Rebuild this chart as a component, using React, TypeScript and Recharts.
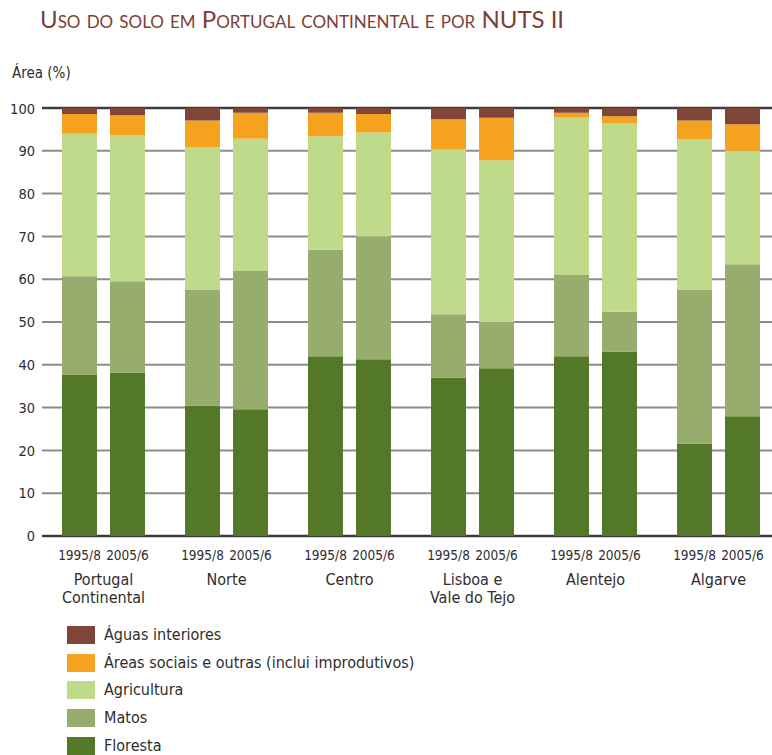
import React from 'react';
import { BarChart, Bar, XAxis, YAxis, CartesianGrid } from 'recharts';

const regionNames = ['Portugal Continental', 'Norte', 'Centro', 'Lisboa e Vale do Tejo', 'Alentejo', 'Algarve'];
const regionLines: Record<string, string[]> = {
    'Portugal Continental': ['Portugal', 'Continental'],
    'Norte': ['Norte'],
    'Centro': ['Centro'],
    'Lisboa e Vale do Tejo': ['Lisboa e', 'Vale do Tejo'],
    'Alentejo': ['Alentejo'],
    'Algarve': ['Algarve'],
};
const periods = ['1995/8', '2005/6'];
const yTicks = [0, 10, 20, 30, 40, 50, 60, 70, 80, 90, 100];

// values per region, 1995/8
const floresta95 = [37.6, 30.5, 42.0, 37.0, 42.0, 21.6];
const matos95 = [23.1, 27.1, 24.9, 14.8, 19.0, 36.0];
const agricultura95 = [33.3, 33.3, 26.5, 38.5, 36.8, 35.1];
const sociais95 = [4.6, 6.2, 5.5, 7.1, 1.1, 4.4];
const aguas95 = [1.4, 2.9, 1.1, 2.6, 1.1, 2.9];

// values per region, 2005/6
const floresta05 = [38.2, 29.6, 41.3, 39.2, 43.1, 28.0];
const matos05 = [21.3, 32.3, 28.7, 10.8, 9.3, 35.5];
const agricultura05 = [34.2, 30.9, 24.3, 37.8, 44.1, 26.5];
const sociais05 = [4.6, 6.1, 4.3, 9.9, 1.6, 6.2];
const aguas05 = [1.7, 1.1, 1.4, 2.3, 1.9, 3.8];

const series = [
    { key: 'floresta', name: 'Floresta', color: '#527828' },
    { key: 'matos', name: 'Matos', color: '#97ad6e' },
    { key: 'agricultura', name: 'Agricultura', color: '#bfda8a' },
    { key: 'sociais', name: 'Áreas sociais e outras (inclui improdutivos)', color: '#f5a31e' },
    { key: 'aguas', name: 'Águas interiores', color: '#7f4539' },
];

const data = regionNames.map((name, i) => ({
    name,
    floresta95: floresta95[i], matos95: matos95[i], agricultura95: agricultura95[i],
    sociais95: sociais95[i], aguas95: aguas95[i],
    floresta05: floresta05[i], matos05: matos05[i], agricultura05: agricultura05[i],
    sociais05: sociais05[i], aguas05: aguas05[i],
}));

const FONT = '"DejaVu Sans Condensed", "DejaVu Sans", sans-serif';

const GroupTick = (props: any) => {
    const { x, y, payload } = props;
    const lines = regionLines[payload.value] || [payload.value];
    return (
        <g transform={`translate(${x},${y})`}>
            <text x={-24} y={0} dy={16} textAnchor="middle" fontSize={13.5} fill="#2e2e2e" fontFamily={FONT}>{periods[0]}</text>
            <text x={24} y={0} dy={16} textAnchor="middle" fontSize={13.5} fill="#2e2e2e" fontFamily={FONT}>{periods[1]}</text>
            {lines.map((l, i) => (
                <text key={l} x={0} y={0} dy={41 + i * 18} textAnchor="middle" fontSize={16} fill="#2e2e2e" fontFamily={FONT}>{l}</text>
            ))}
        </g>
    );
};

const App = () => {
    return (
        <div style={{ position: 'absolute', left: 0, top: 0, width: 772, height: 755, overflow: 'hidden', background: '#fff', fontFamily: FONT }}>
            <div style={{ position: 'absolute', left: 40, top: 4, fontFamily: 'Lato, sans-serif', fontVariant: 'small-caps', fontSize: 24, color: '#7d4037', whiteSpace: 'nowrap' }}>
                Uso do solo em Portugal continental e por NUTS II
            </div>
            <div style={{ position: 'absolute', left: 12, top: 64, fontSize: 15, color: '#2e2e2e' }}>Área (%)</div>

            <div style={{ position: 'absolute', left: 0, top: 100 }}>
                <BarChart width={780} height={526} data={data} margin={{ top: 8, right: 0, left: 0, bottom: 0 }} barSize={35} barGap={13}>
                    <CartesianGrid vertical={false} horizontalValues={[10, 20, 30, 40, 50, 60, 70, 80, 90]} stroke="#8c8c8c" strokeWidth={2} />
                    <CartesianGrid vertical={false} horizontalValues={[0, 100]} stroke="#3c3c3c" strokeWidth={2.5} />
                    <XAxis dataKey="name" interval={0} axisLine={false} tickLine={false} height={90} tick={<GroupTick />} />
                    <YAxis domain={[0, 100]} ticks={yTicks} width={42} axisLine={false} tickLine={false} tickSize={0} tickMargin={7}
                        tick={{ fontSize: 14.5, fill: '#2e2e2e', fontFamily: FONT }} />
                    {series.map(s => (
                        <Bar key={s.key + '95'} dataKey={s.key + '95'} stackId="p95" fill={s.color} isAnimationActive={false} />
                    ))}
                    {series.map(s => (
                        <Bar key={s.key + '05'} dataKey={s.key + '05'} stackId="p05" fill={s.color} isAnimationActive={false} />
                    ))}
                </BarChart>
            </div>

            <div style={{ position: 'absolute', left: 67, top: 621 }}>
                {[...series].reverse().map(s => (
                    <div key={s.key} style={{ display: 'flex', alignItems: 'center', height: 27.7 }}>
                        <div style={{ width: 28, height: 18, background: s.color }} />
                        <span style={{ marginLeft: 9, fontSize: 16, lineHeight: '18px', color: '#2e2e2e' }}>{s.name}</span>
                    </div>
                ))}
            </div>
        </div>
    );
};

export default App;
